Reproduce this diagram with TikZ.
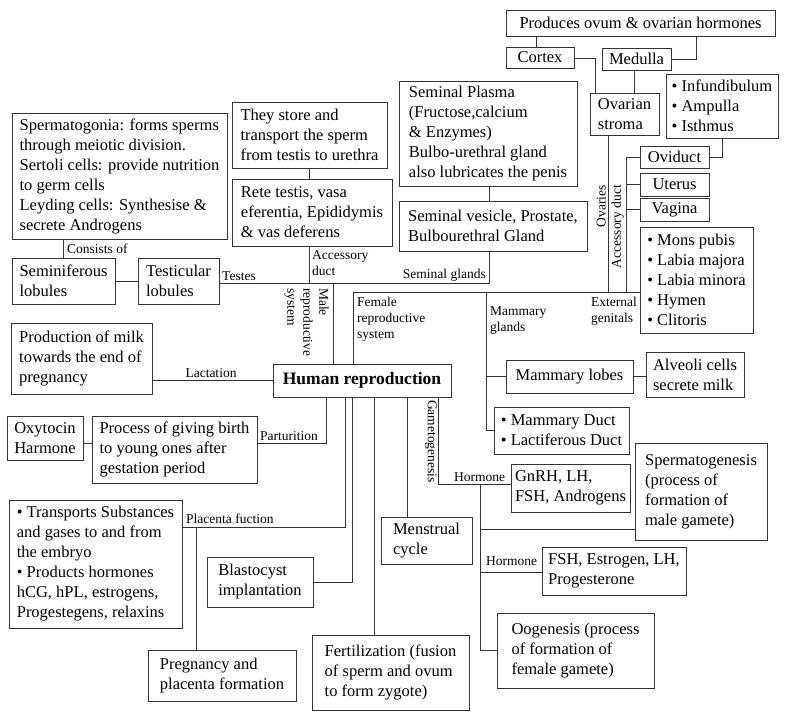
\documentclass[tikz,border=0pt]{standalone}
\usepackage{fontspec}
\setmainfont{Liberation Serif}
\tikzset{
  box/.style={draw=black!80, line width=0.9pt, inner sep=0pt, align=left, font=\fontsize{16.5}{20}\selectfont},
  lbl/.style={inner sep=1pt, align=left, font=\fontsize{13.5}{16}\selectfont},
  conn/.style={draw=black!80, line width=0.9pt}
}
\newcommand{\mybox}[7][]{%
  \pgfmathsetmacro{\bxw}{#5-#3}\pgfmathsetmacro{\bxh}{#6-#4}%
  \node[box, minimum width=\bxw pt, minimum height=\bxh pt, #1] (#2) at ({(#3+#5)/2},{(#4+#6)/2}) {#7};}
\begin{document}
\begin{tikzpicture}[x=1pt,y=-1pt]
\useasboundingbox (0,0) rectangle (785,721);
% ---- boxes ----
\mybox{sperm}{12}{113}{227}{239}{Spermatogonia: forms sperms\\through meiotic division.\\Sertoli cells: provide nutrition\\to germ cells\\Leyding cells: Synthesise \&\\secrete Androgens}
\mybox{store}{232}{102}{387}{168}{They store and\\transport the sperm\\from testis to urethra}
\mybox{rete}{232}{179}{392}{246}{Rete testis, vasa\\eferentia, Epididymis\\\& vas deferens}
\mybox{semin}{12}{258}{115}{304}{Seminiferous\\lobules}
\mybox{testic}{138}{258}{219}{304}{Testicular\\lobules}
\mybox{splasma}{399}{81}{577}{186}{Seminal Plasma\\(Fructose,calcium\\\& Enzymes)\\Bulbo-urethral gland\\also lubricates the penis}
\mybox{svesicle}{399}{201}{587}{251}{Seminal vesicle, Prostate,\\Bulbourethral Gland}
\mybox{produces}{506}{10}{775}{36}{Produces ovum \& ovarian hormones}
\mybox{cortex}{506}{47}{574}{68}{Cortex}
\mybox{medulla}{602}{48}{671}{70}{Medulla}
\mybox{stroma}{590}{93}{659}{135}{Ovarian\\stroma}
\mybox{infund}{666}{74}{778}{138}{• Infundibulum\\• Ampulla\\• Isthmus}
\mybox{oviduct}{640}{146}{709}{168}{Oviduct}
\mybox{uterus}{640}{173}{709}{196}{Uterus}
\mybox{vagina}{640}{198}{709}{221}{Vagina}
\mybox{extgen}{640}{227}{753}{333}{• Mons pubis\\• Labia majora\\• Labia minora\\• Hymen\\• Clitoris}
\mybox[align=center, font=\fontsize{17.5}{21}\selectfont\bfseries]{hr}{273}{364}{451}{397}{Human reproduction}
\mybox{milk}{11}{323}{152}{394}{Production of milk\\towards the end of\\pregnancy}
\mybox{lobes}{506}{360}{633}{393}{Mammary lobes}
\mybox{alveoli}{646}{352}{744}{397}{Alveoli cells\\secrete milk}
\mybox{mduct}{494}{407}{629}{454}{• Mammary Duct\\• Lactiferous Duct}
\mybox{oxy}{7}{416}{83}{460}{Oxytocin\\Harmone}
\mybox{birth}{92}{416}{257}{483}{Process of giving birth\\to young ones after\\gestation period}
\mybox{transports}{9}{500}{182}{628}{• Transports Substances\\and gases to and from\\the embryo\\• Products hormones\\hCG, hPL, estrogens,\\Progestegens, relaxins}
\mybox{blast}{207}{557}{313}{607}{Blastocyst\\implantation}
\mybox{pregn}{148}{650}{296}{701}{Pregnancy and\\placenta formation}
\mybox{fert}{312}{635}{469}{710}{Fertilization (fusion\\of sperm and ovum\\to form zygote)}
\mybox{menst}{381}{517}{472}{564}{Menstrual\\cycle}
\mybox{gnrh}{511}{464}{630}{512}{GnRH, LH,\\FSH, Androgens}
\mybox{spermato}{635}{443}{767}{540}{Spermatogenesis\\(process of\\formation of\\male gamete)}
\mybox{fsh}{542}{547}{686}{595}{FSH, Estrogen, LH,\\Progesterone}
\mybox{oog}{497}{613}{654}{688}{Oogenesis (process\\of formation of\\female gamete)}
% ---- junction coordinates ----
\coordinate (accx) at (309,283);
\coordinate (malx) at (333,283);
\coordinate (semx) at (489,283);
\coordinate (fJ) at (353,292);
\coordinate (mamx) at (486,292);
\coordinate (ovx) at (608,292);
\coordinate (acx) at (626,292);
\coordinate (infx) at (722,157);
\coordinate (medx) at (696,59);
\coordinate (cox) at (536,40);
\coordinate (cstx) at (595,58);
\coordinate (mstx) at (634,80);
\coordinate (parx) at (326,443);
\coordinate (plx) at (345,527);
\coordinate (pgx) at (196,527);
\coordinate (blx) at (352,582);
\coordinate (fex) at (374,600);
\coordinate (mnx) at (407,500);
\coordinate (gmx) at (438,484);
\coordinate (hox) at (480,484);
\coordinate (h2) at (480,529);
\coordinate (h3) at (480,572);
% ---- male connectors ----
\draw[conn] (semin.north) -- (semin.north |- sperm.south);
\draw[conn] (semin.east) -- (testic.west);
\draw[conn] (store.south) -- (store.south |- rete.north);
\draw[conn] (testic.east |- accx) -- (semx) -- (svesicle.south -| semx);
\draw[conn] (splasma.south -| semx) -- (svesicle.north -| semx);
\draw[conn] (rete.south -| accx) -- (accx);
\draw[conn] (malx) -- (hr.north -| malx);
% ---- female connectors ----
\draw[conn] (hr.north -| fJ) -- (fJ) -- (extgen.west |- fJ);
\draw[conn] (mamx) -- (mamx |- mduct.west) -- (mduct.west);
\draw[conn] (mamx |- lobes.west) -- (lobes.west);
\draw[conn] (lobes.east) -- (alveoli.west |- lobes.east);
\draw[conn] (ovx) -- (ovx |- stroma.south);
\draw[conn] (acx) -- (acx |- oviduct.west) -- (oviduct.west);
\draw[conn] (acx |- uterus.west) -- (uterus.west);
\draw[conn] (acx |- vagina.west) -- (vagina.west);
\draw[conn] (oviduct.east) -- (infx) -- (infx |- infund.south);
\draw[conn] (medulla.east |- medx) -- (medx) -- (medx |- produces.south);
\draw[conn] (produces.south -| cox) -- (cortex.north -| cox);
\draw[conn] (cortex.east |- cstx) -- (cstx) -- (cstx |- stroma.north);
\draw[conn] (medulla.south -| mstx) -- (stroma.north -| mstx);
% ---- other connectors ----
\draw[conn] (hr.west) -- (milk.east |- hr.west);
\draw[conn] (hr.south -| parx) -- (parx) -- (birth.east |- parx);
\draw[conn] (oxy.east |- parx) -- (birth.west |- parx);
\draw[conn] (hr.south -| plx) -- (plx) -- (transports.east |- plx);
\draw[conn] (pgx) -- (pgx |- pregn.north);
\draw[conn] (hr.south -| blx) -- (blx) -- (blast.east |- blx);
\draw[conn] (hr.south -| fex) -- (fert.north -| fex);
\draw[conn] (hr.south -| mnx) -- (menst.north -| mnx);
\draw[conn] (hr.south -| gmx) -- (gmx) -- (gnrh.west |- gmx);
\draw[conn] (hox) -- (hox |- oog.west) -- (oog.west);
\draw[conn] (h2) -- (spermato.west |- h2);
\draw[conn] (h3) -- (fsh.west |- h3);
% ---- labels ----
\node[lbl, anchor=west] (lconsist) at (66,249) {Consists of};
\node[lbl, anchor=west] (ltestes) at (221,276) {Testes};
\node[lbl, anchor=north west] (laccm) at (311,249) {Accessory\\duct};
\node[lbl, anchor=east] (lsemg) at (487,275) {Seminal glands};
\node[lbl, rotate=-90, anchor=north west] (lmale) at (330,287) {Male\\reproductive\\system};
\node[lbl, anchor=north west] (lfem) at (356,296) {Female\\reproductive\\system};
\node[lbl, anchor=north west] (lmam) at (489,305) {Mammary\\glands};
\node[lbl, anchor=north east] (lext) at (638,296) {External\\genitals};
\node[lbl, rotate=90, anchor=south east] (lova) at (607,184) {Ovaries};
\node[lbl, rotate=90, anchor=south east] (lacf) at (625,184) {Accessory duct};
\node[lbl, rotate=-90, anchor=north west] (lgam) at (438,399) {Gametogenesis};
\node[lbl, anchor=south] (llac) at (211,379) {Lactation};
\node[lbl, anchor=south west] (lpar) at (259,442) {Parturition};
\node[lbl, anchor=south west] (lpla) at (185,525) {Placenta fuction};
\node[lbl, anchor=south west] (lhor1) at (453,483) {Hormone};
\node[lbl, anchor=south west] (lhor2) at (485,567) {Hormone};
\end{tikzpicture}
\end{document}
